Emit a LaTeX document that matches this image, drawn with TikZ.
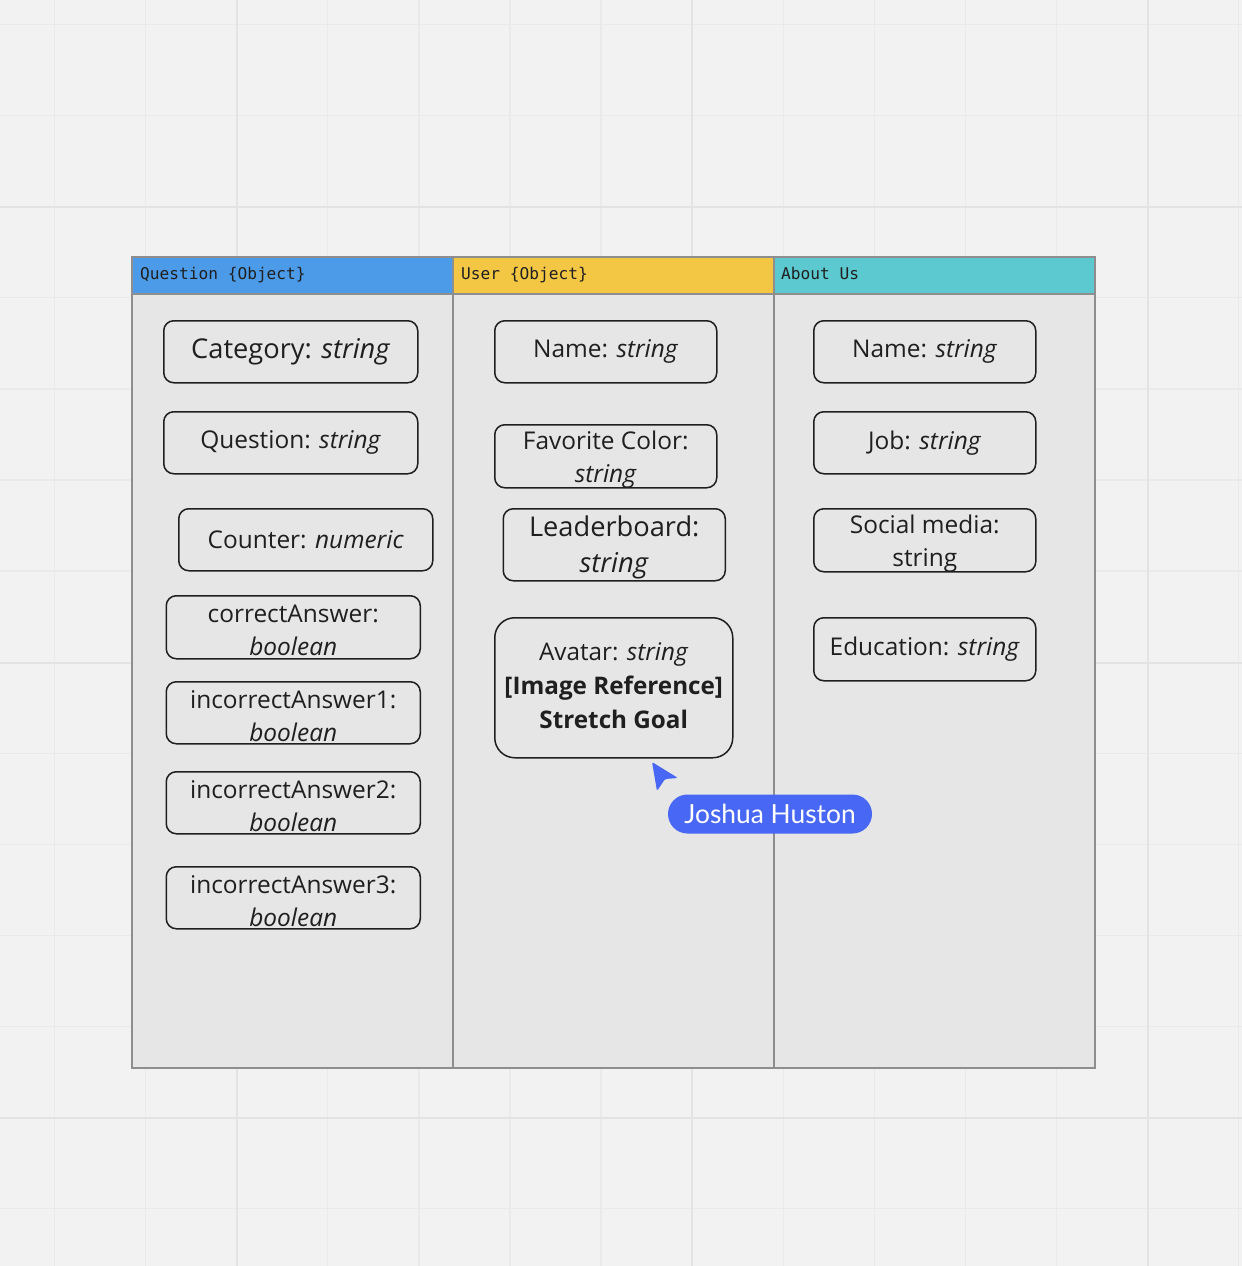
\documentclass[tikz,border=0pt]{standalone}
\usepackage{fontspec}
\setmainfont{Open Sans}
\setmonofont{DejaVu Sans Mono}
\newfontfamily\tagfont{Lato}

\definecolor{canvas}{HTML}{F2F2F2}
\definecolor{gridminor}{HTML}{EAEAEA}
\definecolor{gridmajor}{HTML}{E3E3E3}
\definecolor{panel}{HTML}{E6E6E6}
\definecolor{frame}{HTML}{8E8E8E}
\definecolor{ink}{HTML}{1F1F1F}
\definecolor{qblue}{HTML}{4C9BE8}
\definecolor{uyellow}{HTML}{F3C644}
\definecolor{ateal}{HTML}{5CC9D1}
\definecolor{cursorblue}{HTML}{4767F4}

\begin{document}
\begin{tikzpicture}[x=0.2mm, y=-0.2mm,
  field/.style 2 args={draw=ink, line width=0.3mm, rounded corners=2mm, fill=panel,
    inner sep=0pt, anchor=north west,
    path picture={\node[anchor=center, align=center, text=ink, #1] at (path picture bounding box.center) {#2};}},
  body/.style={font=\fontsize{13.9}{18.6}\selectfont},
  big/.style={font=\fontsize{15.5}{20.4}\selectfont},
  pair/.style={font=\fontsize{13.9}{18.8}\selectfont, yshift=-0.7mm},
  bigpair/.style={font=\fontsize{15.5}{20.4}\selectfont, yshift=-0.6mm},
  note/.style={font=\fontsize{13.8}{19.3}\selectfont, yshift=0.4mm},
  header/.style={anchor=base west, font=\ttfamily\fontsize{9.2}{11}\selectfont, text=ink},
  tag/.style={fill=cursorblue, text=white, rounded corners=3.9mm, minimum width=40.8mm,
    minimum height=7.8mm, font=\tagfont\fontsize{15}{16}\selectfont},
]
  % canvas and grid
  \useasboundingbox[fill=canvas] (0,0) rectangle (1242,1266);
  \foreach \x in {54.5,145.6,...,1242} \draw[gridminor, line width=0.25mm] (\x,0) -- (\x,1266);
  \foreach \y in {24.5,115.6,...,1266} \draw[gridminor, line width=0.25mm] (0,\y) -- (1242,\y);
  \foreach \x in {236.7,692.2,1147.7} \draw[gridmajor, line width=0.4mm] (\x,0) -- (\x,1266);
  \foreach \y in {207.3,662.8,1118.3} \draw[gridmajor, line width=0.4mm] (0,\y) -- (1242,\y);

  % table frame
  \fill[panel] (132,257) rectangle (1095,1068);
  \fill[qblue] (132,257) rectangle (453,294);
  \fill[uyellow] (453,257) rectangle (774,294);
  \fill[ateal] (774,257) rectangle (1095,294);
  \draw[frame, line width=0.4mm] (132,257) rectangle (1095,1068)
    (453,257) -- (453,1068) (774,257) -- (774,1068) (132,294) -- (1095,294);

  \node[header] (qhead) at (134,279) {Question \{Object\}};
  \node[header] (uhead) at (455,279) {User \{Object\}};
  \node[header] (ahead) at (775,279) {About Us};

  % question column
  \node[field={big}{Category: \textit{string}}, minimum width=50.8mm, minimum height=12.4mm] (category) at (163,320) {};
  \node[field={body}{Question: \textit{string}}, minimum width=50.8mm, minimum height=12.4mm] (question) at (163,411) {};
  \node[field={body}{Counter: \textit{numeric}}, minimum width=50.8mm, minimum height=12.4mm] (counter) at (178,508) {};
  \node[field={pair}{correctAnswer:\\\textit{boolean}}, minimum width=50.8mm, minimum height=12.6mm] (correct) at (165.5,595) {};
  \node[field={pair}{incorrectAnswer1:\\\textit{boolean}}, minimum width=50.8mm, minimum height=12.4mm] (wrongone) at (165.5,681) {};
  \node[field={pair}{incorrectAnswer2:\\\textit{boolean}}, minimum width=50.8mm, minimum height=12.4mm] (wrongtwo) at (165.5,771) {};
  \node[field={pair}{incorrectAnswer3:\\\textit{boolean}}, minimum width=50.8mm, minimum height=12.4mm] (wrongthree) at (165.5,866) {};

  % user column
  \node[field={body}{Name: \textit{string}}, minimum width=44.4mm, minimum height=12.4mm] (username) at (494,320) {};
  \node[field={pair}{Favorite Color:\\\textit{string}}, minimum width=44.4mm, minimum height=12.6mm] (favcolor) at (494,424) {};
  \node[field={bigpair}{Leaderboard:\\\textit{string}}, minimum width=44.4mm, minimum height=14.4mm] (leaderboard) at (502.5,508) {};
  \node[field={note}{Avatar: \textit{string}\\\textbf{[Image Reference]}\\\textbf{Stretch Goal}},
    rounded corners=4mm, minimum width=47.6mm, minimum height=28mm] (avatar) at (494,617) {};

  % about column
  \node[field={body}{Name: \textit{string}}, minimum width=44.4mm, minimum height=12.4mm] (aboutname) at (813,320) {};
  \node[field={body}{Job: \textit{string}}, minimum width=44.4mm, minimum height=12.4mm] (job) at (813,411) {};
  \node[field={pair}{Social media:\\string}, minimum width=44.4mm, minimum height=12.6mm] (social) at (813,508) {};
  \node[field={body}{Education: \textit{string}}, minimum width=44.4mm, minimum height=12.6mm] (education) at (813,617) {};

  % live cursor
  \fill[cursorblue, rounded corners=0.3mm] (652,762) -- (678,778) -- (665,779) -- (657,791) -- cycle;
  \node[tag] (presence) at (770,814) {Joshua Huston};
\end{tikzpicture}
\end{document}
